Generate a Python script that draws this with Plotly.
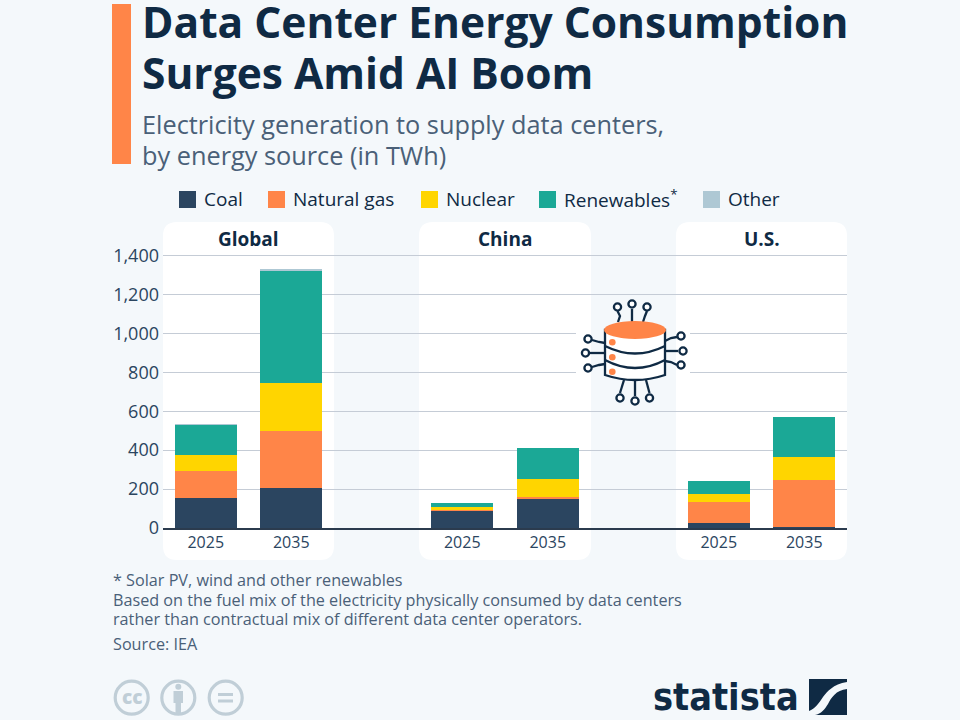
import plotly.graph_objects as go

# values in TWh
slots = ["Global 2025", "Global 2035", "gap 1", "China 2025", "China 2035", "gap 2", "U.S. 2025", "U.S. 2035"]
bars = ["Global 2025", "Global 2035", "China 2025", "China 2035", "U.S. 2025", "U.S. 2035"]
years = ["2025", "2035", "2025", "2035", "2025", "2035"]
coal = [156, 205, 92, 154, 27, 6]
natural_gas = [138, 293, 3, 6, 104, 242]
nuclear = [81, 247, 13, 92, 45, 116]
renewables = [157, 581, 22, 157, 65, 206]
other = [1, 4, 0, 0, 0, 0]
y_ticks = [0, 200, 400, 600, 800, 1000, 1200, 1400]

series = [("Coal", coal, "#2b4560"), ("Natural gas", natural_gas, "#ff8548"),
          ("Nuclear", nuclear, "#ffd500"), ("Renewables<sup>*</sup>", renewables, "#1ba896"),
          ("Other", other, "#aec8d4")]

BG = "#f4f8fb"
DARK = "#0f2a44"
FONT = "Open Sans"


def px(x):
    return x / 960


def py(y):
    return 1 - y / 720


def rect(x0, y0, x1, y1, color, layer="above"):
    return dict(type="rect", xref="paper", yref="paper", x0=px(x0), x1=px(x1), y0=py(y0), y1=py(y1),
                fillcolor=color, line_width=0, layer=layer)


def path(points, color=None, line=None, width=2.3, layer="above"):
    # points are written in page pixels
    d = ""
    for p in points:
        if isinstance(p, str):
            d += p + " "
        else:
            d += f"{px(p[0]):.5f},{py(p[1]):.5f} "
    return dict(type="path", xref="paper", yref="paper", path=d, fillcolor=color or "rgba(0,0,0,0)",
                line=dict(color=line or "rgba(0,0,0,0)", width=width if line else 0), layer=layer)


def circle(cx, cy, r, color, line=None, width=2.3):
    return dict(type="circle", xref="paper", yref="paper", x0=px(cx - r), x1=px(cx + r), y0=py(cy - r), y1=py(cy + r),
                fillcolor=color, line=dict(color=line or color, width=width if line else 0), layer="above")


def text(x, y, s, size, color=DARK, anchor="left", family=FONT, weight=None):
    return dict(xref="paper", yref="paper", x=px(x), y=py(y), text=s, showarrow=False, xanchor=anchor, yanchor="middle",
                font=dict(family=family, size=size, color=color, weight=weight))


def panel(x0, x1, y0=222, y1=560, r=14):
    return path(["M", (x0 + r, y0), "L", (x1 - r, y0), "Q", (x1, y0), (x1, y0 + r), "L", (x1, y1 - r), "Q", (x1, y1),
                 (x1 - r, y1), "L", (x0 + r, y1), "Q", (x0, y1), (x0, y1 - r), "L", (x0, y0 + r), "Q", (x0, y0),
                 (x0 + r, y0), "Z"], color="white", layer="below")


fig = go.Figure()
for name, values, color in series:
    fig.add_bar(x=bars, y=values, name=name, marker=dict(color=color, line_width=0), width=0.725, showlegend=False)

shapes = [rect(112, 4, 131, 164, "#ff8548"), panel(163, 334), panel(419, 591), panel(676, 847)]

annotations = [
    text(140, 21.5, "Data Center Energy Consumption", 42.5, weight=700),
    text(140, 73, "Surges Amid AI Boom", 42.5, weight=700),
    text(140, 124, "Electricity generation to supply data centers,", 25.3, color="#4a6078"),
    text(140, 155, "by energy source (in TWh)", 25.3, color="#4a6078"),
    text(248.5, 239, "Global", 19, anchor="center", weight=700),
    text(505, 239, "China", 19, anchor="center", weight=700),
    text(761.5, 239, "U.S.", 19, anchor="center", weight=700),
    text(111, 580, "* Solar PV, wind and other renewables", 16.2, color="#4a6078"),
    text(111, 600, "Based on the fuel mix of the electricity physically consumed by data centers", 16.2, color="#4a6078"),
    text(111, 619, "rather than contractual mix of different data center operators.", 16.2, color="#4a6078"),
    text(111, 644, "Source: IEA", 16.2, color="#4a6078"),
]

# legend
legend_x = [179, 268, 421, 539, 703]
for x, (name, values, color) in zip(legend_x, series):
    shapes.append(rect(x, 191, x + 17, 208, color))
    annotations.append(text(x + 22.5, 199, name, 19))

# database icon, sits on the gridlines with a clear area around it
shapes += [rect(576, 298, 591, 406, "white"), rect(591, 298, 676, 406, BG), rect(676, 298, 690, 406, "white")]
for cx, cy, pts in [
    (617.5, 307, [(617.5, 311), (620, 316), (618, 322)]),
    (632, 304, [(632, 309), (632, 322)]),
    (647, 307, [(647, 311), (645, 316), (643, 322)]),
    (620, 398, [(620, 393), (624, 380)]),
    (635, 401, [(635, 396), (635, 380)]),
    (649.5, 398, [(649.5, 393), (646, 380)]),
    (588, 339, [(592, 340), (599, 342), (605, 343)]),
    (585.5, 353, [(590, 353), (605, 353)]),
    (588, 368, [(592, 367), (599, 365), (605, 364)]),
    (681, 336, [(677, 337), (671, 338), (665, 341)]),
    (683, 351, [(678, 351), (665, 351)]),
    (681, 365, [(677, 365), (671, 362), (665, 361)]),
]:
    shapes.append(path(["M", pts[0]] + sum([["L", p] for p in pts[1:]], []), line=DARK))
    shapes.append(circle(cx, cy, 3.6, "white", line=DARK))
shapes.append(path(["M", (605, 330), "L", (605, 375), "Q", (635, 385), (665, 375), "L", (665, 330), "Z"], color="white", line=DARK))
shapes.append(path(["M", (605, 346), "Q", (635, 361), (665, 346)], line=DARK))
shapes.append(path(["M", (605, 360), "Q", (635, 376), (665, 360)], line=DARK))
shapes.append(dict(type="circle", xref="paper", yref="paper", x0=px(604), x1=px(666), y0=py(321), y1=py(339),
                   fillcolor="#ff8548", line_width=0, layer="above"))
for cy in [342.3, 357.3, 371.7]:
    shapes.append(circle(612.3, cy, 3.3, "#ff8548"))

# cc icons
grey = "#c0ced7"
for cx in [131.7, 178.3, 225.7]:
    shapes.append(circle(cx, 697.7, 16.5, "rgba(0,0,0,0)", line=grey, width=3.2))
annotations.append(text(131.7, 697, "cc", 19, color=grey, anchor="center", weight=800))
shapes.append(circle(178.3, 686.7, 3, grey))
shapes.append(rect(173.5, 691, 183, 703, grey))
shapes.append(rect(175.5, 703, 181, 713, grey))
shapes.append(rect(218, 693, 233, 696, grey))
shapes.append(rect(218, 699.5, 233, 702.5, grey))

# statista logo
annotations.append(text(651, 697, "statista", 37.5, anchor="left", family="DejaVu Sans Condensed, Open Sans", weight=700))
shapes.append(rect(809, 679, 847, 715, DARK))
shapes.append(path(["M", (847, 682), "C", (833, 684), (827, 692), (823, 697), "C", (819, 703), (815, 709), (809, 711),
                    "L", (809, 715), "L", (815, 715), "C", (821, 714), (825, 709), (828, 704),
                    "C", (831, 698), (836, 690), (847, 689), "Z"], color=BG))

fig.update_layout(
    width=960, height=720, margin=dict(l=0, r=0, t=0, b=0),
    paper_bgcolor=BG, plot_bgcolor="rgba(0,0,0,0)",
    barmode="stack", bargap=0.275, showlegend=False,
    font=dict(family=FONT, color=DARK),
    shapes=shapes, annotations=annotations,
    xaxis=dict(domain=[px(163), px(847)], type="category", categoryorder="array", categoryarray=slots,
               range=[-0.5, 7.5], tickmode="array", tickvals=bars, ticktext=years, showgrid=False,
               tickfont=dict(size=16, color="#2b4560"), ticks="", ticklabelstandoff=-1, automargin=False,
               showline=True, linecolor="#2b3b4e", linewidth=1.5, zeroline=False),
    yaxis=dict(domain=[py(528), py(528 - 1410 * 0.19464)], range=[0, 1410], tickmode="array", tickvals=y_ticks, tickformat=",",
               tickfont=dict(size=18, color="#2b4560"), ticks="", ticklabelstandoff=3, automargin=False,
               gridcolor="#c5ccd6", gridwidth=1, zeroline=False),
)

fig.write_html("out.html", config=dict(displayModeBar=False),
               post_script="document.body.style.margin='0';document.body.style.background='%s';" % BG)
